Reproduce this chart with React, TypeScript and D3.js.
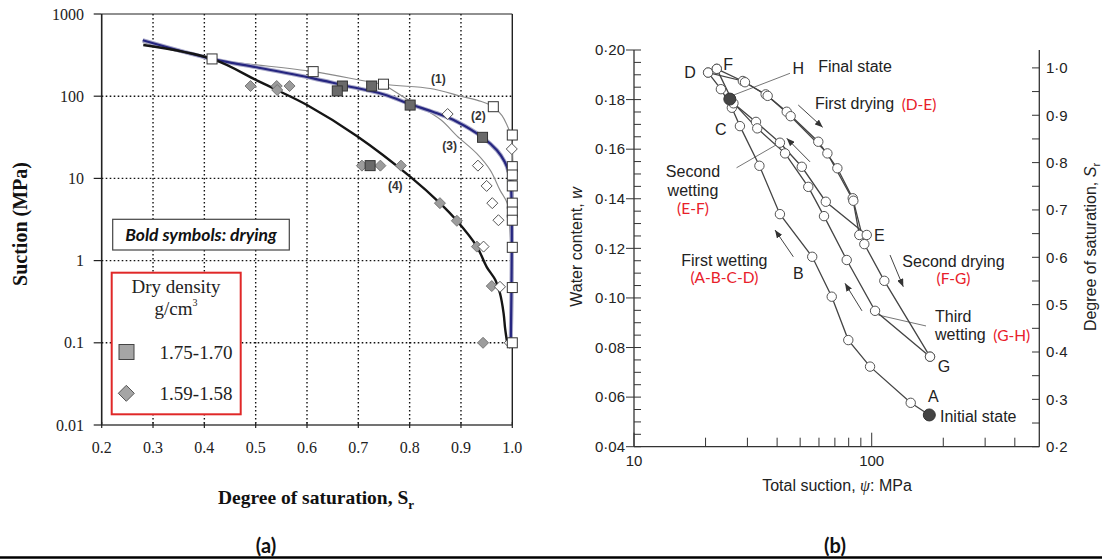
import React from 'react';
import * as d3 from 'd3';

type P = [number, number];

// ---------------- Panel (a) data ----------------
const satTicks = [0.2, 0.3, 0.4, 0.5, 0.6, 0.7, 0.8, 0.9, 1.0];
const satTickLabels = ['0.2', '0.3', '0.4', '0.5', '0.6', '0.7', '0.8', '0.9', '1.0'];
const suctionTicks = [0.01, 0.1, 1, 10, 100, 1000];
const suctionTickLabels = ['0.01', '0.1', '1', '10', '100', '1000'];

// curves: [Sr, suction MPa]
const curve1: P[] = [[0.28, 450], [0.415, 284], [0.612, 199], [0.749, 140], [0.84, 124], [0.9, 100], [0.94, 86], [0.963, 74.5], [0.98, 58], [0.99, 44], [0.997, 34], [1.0, 25], [1.0, 0.1]];
const curve2: P[] = [[0.28, 480], [0.415, 284], [0.502, 225], [0.612, 165], [0.669, 137], [0.75, 105], [0.801, 80], [0.85, 63], [0.892, 49], [0.942, 31.6], [0.97, 22], [0.985, 16], [0.993, 12], [0.997, 9], [0.997, 0.1]];
const curve3: P[] = [[0.749, 140], [0.8, 88], [0.86, 52], [0.892, 33], [0.931, 20], [0.957, 12.6], [0.976, 7.2], [0.99, 5], [0.994, 3], [0.997, 1.5]];
const curve4: P[] = [[0.281, 420], [0.415, 284], [0.502, 156], [0.541, 119], [0.6, 78], [0.697, 32.8], [0.801, 10.5], [0.859, 5.0], [0.892, 3.05], [0.931, 1.48], [0.95, 0.84], [0.967, 0.58], [0.976, 0.4], [0.983, 0.23], [0.986, 0.15], [0.99, 0.1]];

const openSquares: P[] = [[0.415, 284], [0.612, 199], [0.749, 140], [0.963, 74.5], [1.0, 33.7], [1.0, 13.9], [1.0, 11], [1.0, 8.1], [1.0, 5.0], [1.0, 3.9], [1.0, 3.1], [1.0, 1.45], [1.0, 0.47], [1.0, 0.1]];
const openDiamonds: P[] = [[0.874, 60.7], [0.999, 22.8], [0.933, 14.3], [0.95, 8.1], [0.961, 5.0], [0.973, 3.1], [0.944, 1.48], [0.976, 0.48], [0.995, 0.1]];
const filledSquares: P[] = [[0.669, 133], [0.659, 116], [0.726, 133], [0.801, 78], [0.942, 31.6], [0.723, 14.3]];
const filledDiamonds: P[] = [[0.49, 133], [0.541, 133], [0.542, 119], [0.566, 133], [0.707, 14.3], [0.743, 14.3], [0.783, 14.3], [0.859, 5.0], [0.892, 3.05], [0.931, 1.48], [0.96, 0.49], [0.943, 0.1]];

const curveLabels = ['(1)', '(2)', '(3)', '(4)'];
const curveLabelPos: P[] = [[0.856, 165], [0.934, 57.4], [0.878, 24.8], [0.772, 8.15]];

const legendLabels = ['1.75-1.70', '1.59-1.58'];

// ---------------- Panel (b) data ----------------
const wTicks = [0.04, 0.06, 0.08, 0.10, 0.12, 0.14, 0.16, 0.18, 0.20];
const srTicks = [0.2, 0.3, 0.4, 0.5, 0.6, 0.7, 0.8, 0.9, 1.0];
const suctionMinorTicks = [20, 30, 40, 50, 60, 70, 80, 90, 200, 300, 400];
const suctionLabelTicks = [10, 100];

// paths: [suction MPa, water content]
const firstWetting: P[] = [[174.7, 0.0528], [145.9, 0.0577], [98.4, 0.0723], [79.7, 0.0830], [67.9, 0.1005], [56.2, 0.1166], [41.1, 0.1338], [33.7, 0.1533], [27.9, 0.1693], [25.8, 0.1767], [23.2, 0.1842], [20.5, 0.1909]];
const firstDrying: P[] = [[20.5, 0.1909], [28.7, 0.1875], [35.8, 0.1821], [43.9, 0.1751], [59.6, 0.1630], [71.7, 0.1523], [83.2, 0.1402], [88.7, 0.1254]];
const secondWetting: P[] = [[95.3, 0.1254], [64.1, 0.1388], [50.8, 0.1529], [41.1, 0.1626], [32.6, 0.1710], [26.2, 0.1785], [22.3, 0.1924]];
const secondDrying: P[] = [[22.3, 0.1924], [29.3, 0.1870], [36.5, 0.1815], [45.6, 0.1733], [65.1, 0.1583], [83.7, 0.1392], [93.1, 0.1217], [113, 0.1069], [175.9, 0.0763]];
const thirdWetting: P[] = [[175.9, 0.0763], [103.3, 0.0948], [78.5, 0.1153], [63, 0.1330], [54.1, 0.1448], [43.2, 0.1583], [33.0, 0.1684], [25.3, 0.1802]];
const initialState: P = [174.7, 0.0528];
const finalState: P = [25.3, 0.1802];

// annotations (text, position in data units)
const bLabels: { t: string; p: P; anchor: string; red?: boolean }[] = [
  { t: 'D', p: [17.2, 0.1911], anchor: 'middle' },
  { t: 'F', p: [24.9, 0.1943], anchor: 'middle' },
  { t: 'H', p: [49.1, 0.1926], anchor: 'middle' },
  { t: 'Final state', p: [85.1, 0.1932], anchor: 'middle' },
  { t: 'First drying', p: [57.7, 0.1785], anchor: 'start' },
  { t: '(D-E)', p: [133.7, 0.1778], anchor: 'start', red: true },
  { t: 'C', p: [23.2, 0.168], anchor: 'middle' },
  { t: 'Second', p: [17.7, 0.1509], anchor: 'middle' },
  { t: 'wetting', p: [17.7, 0.1435], anchor: 'middle' },
  { t: '(E-F)', p: [17.7, 0.1361], anchor: 'middle', red: true },
  { t: 'First wetting', p: [24.0, 0.115], anchor: 'middle' },
  { t: '(A-B-C-D)', p: [24.0, 0.1083], anchor: 'middle', red: true },
  { t: 'B', p: [49.1, 0.1099], anchor: 'middle' },
  { t: 'E', p: [107.7, 0.1254], anchor: 'middle' },
  { t: 'Second drying', p: [220.8, 0.1146], anchor: 'middle' },
  { t: '(F-G)', p: [220.8, 0.1079], anchor: 'middle', red: true },
  { t: 'Third', p: [184.6, 0.0924], anchor: 'start' },
  { t: 'wetting', p: [184.6, 0.0853], anchor: 'start' },
  { t: '(G-H)', p: [324.8, 0.0850], anchor: 'start', red: true },
  { t: 'G', p: [201.5, 0.0723], anchor: 'middle' },
  { t: 'A', p: [181.6, 0.0602], anchor: 'middle' },
  { t: 'Initial state', p: [193.8, 0.0521], anchor: 'start' },
];
const bLeaders: [P, P][] = [
  [[45.3, 0.1906], [26.2, 0.1818]],
  [[27.0, 0.1525], [41.1, 0.1626]],
  [[169.2, 0.0887], [106.6, 0.0931]],
];
const bArrows: [P, P][] = [
  [[49.1, 0.1778], [62.2, 0.1688]],
  [[55.0, 0.1549], [43.9, 0.1644]],
  [[46.8, 0.1166], [39.2, 0.1274]],
  [[91.0, 0.0948], [77.2, 0.1059]],
  [[119.4, 0.1173], [135.8, 0.1045]],
];

const serif = '"Liberation Serif", "Times New Roman", serif';
const sans = '"Liberation Sans", Arial, sans-serif';
const cal = 'Lato, "Open Sans", sans-serif';

export default function App() {
  // ----- panel (a) scales -----
  const ax = d3.scaleLinear().domain([0.2, 1.0]).range([101.7, 512.3]);
  const ay = d3.scaleLog().domain([0.01, 1000]).range([425, 14]);
  const aLine = d3.line<P>().x(d => ax(d[0])).y(d => ay(d[1])).curve(d3.curveCatmullRom.alpha(0.5));

  // ----- panel (b) scales -----
  const bx = d3.scaleLog().domain([10, 507]).range([634, 1039.3]);
  const by = d3.scaleLinear().domain([0.04, 0.2]).range([446.7, 50]);
  const bySr = d3.scaleLinear().domain([0.2, 1.0]).range([446.7, 67.9]);
  const bLine = d3.line<P>().x(d => bx(d[0])).y(d => by(d[1]));

  const sq = (p: P, i: number, fill: string, stroke: string, s = 10) => (
    <rect key={i} x={ax(p[0]) - s / 2} y={ay(p[1]) - s / 2} width={s} height={s} fill={fill} stroke={stroke} strokeWidth={1} />
  );
  const dm = (cx: number, cy: number, i: number, fill: string, stroke: string, r = 5.5) => (
    <path key={i} d={`M${cx},${cy - r}L${cx + r},${cy}L${cx},${cy + r}L${cx - r},${cy}Z`} fill={fill} stroke={stroke} strokeWidth={1} />
  );

  const minorW = d3.range(0.04, 0.2001, 0.005);
  const minorSr = d3.range(0.2, 1.0001, 0.05);
  const bPaths = [firstWetting, firstDrying, secondWetting, secondDrying, thirdWetting];
  const allPts = bPaths.flat();

  return (
    <div style={{ position: 'absolute', left: 0, top: 0 }}>
      <svg width={1102} height={560} viewBox="0 0 1102 560" style={{ display: 'block', background: '#fff' }}>
        <defs>
          <marker id="arr" viewBox="0 0 10 8" refX={10} refY={4} markerWidth={8} markerHeight={6.5} markerUnits="userSpaceOnUse" orient="auto">
            <path d="M0,0L10,4L0,8Z" fill="#333" />
          </marker>
        </defs>

        {/* ================= Panel (a) ================= */}
        <g>
          {satTicks.slice(1, -1).map((t, i) => (
            <line key={'gv' + i} x1={ax(t)} x2={ax(t)} y1={ay(1000)} y2={ay(0.01)} stroke="#111" strokeWidth={1.4} strokeDasharray="1.6,2.4" />
          ))}
          {suctionTicks.slice(1, -1).map((t, i) => (
            <line key={'gh' + i} x1={ax(0.2)} x2={ax(1.0)} y1={ay(t)} y2={ay(t)} stroke="#111" strokeWidth={1.4} strokeDasharray="1.6,2.4" />
          ))}
          <line x1={ax(0.2)} x2={ax(1.0)} y1={ay(1000)} y2={ay(1000)} stroke="#222" strokeWidth={1.2} />
          <line x1={ax(1.0)} x2={ax(1.0)} y1={ay(1000)} y2={ay(0.01)} stroke="#222" strokeWidth={1.4} />
          <line x1={ax(0.2)} x2={ax(0.2)} y1={ay(1000)} y2={ay(0.01)} stroke="#222" strokeWidth={1.6} />
          <line x1={ax(0.2)} x2={ax(1.0)} y1={ay(0.01)} y2={ay(0.01)} stroke="#444" strokeWidth={1.6} />
          {suctionTicks.map((t, i) => (
            <g key={'yt' + i}>
              <line x1={ax(0.2) - 8} x2={ax(0.2)} y1={ay(t)} y2={ay(t)} stroke="#222" strokeWidth={1.2} />
              <text x={84} y={ay(t)} dy="0.35em" textAnchor="end" fontFamily={serif} fontSize={16} fill="#222">{suctionTickLabels[i]}</text>
            </g>
          ))}
          {satTicks.map((t, i) => (
            <g key={'xt' + i}>
              <line x1={ax(t)} x2={ax(t)} y1={ay(0.01) - 3} y2={ay(0.01) + 3} stroke="#222" strokeWidth={1.2} />
              <text x={ax(t)} y={447} dy="0.35em" textAnchor="middle" fontFamily={serif} fontSize={16} fill="#222">{satTickLabels[i]}</text>
            </g>
          ))}
          <text transform="translate(20,224) rotate(-90)" textAnchor="middle" dy="0.35em" fontFamily={serif} fontWeight="bold" fontSize={20} fill="#111">Suction (MPa)</text>
          <text x={316} y={497} dy="0.35em" textAnchor="middle" fontFamily={serif} fontWeight="bold" fontSize={19.5} fill="#111">
            Degree of saturation, S<tspan fontSize={13} dy="5">r</tspan>
          </text>

          <path d={aLine(curve1) || ''} fill="none" stroke="#8a8a8a" strokeWidth={1.1} />
          <path d={aLine(curve3) || ''} fill="none" stroke="#8a8a8a" strokeWidth={1.1} />
          <path d={aLine(curve2) || ''} fill="none" stroke="#a8a8c8" strokeWidth={4.2} />
          <path d={aLine(curve2) || ''} fill="none" stroke="#262680" strokeWidth={2.2} />
          <path d={aLine(curve4) || ''} fill="none" stroke="#151515" strokeWidth={2.4} />

          {curveLabels.map((t, i) => (
            <text key={'cl' + i} x={ax(curveLabelPos[i][0])} y={ay(curveLabelPos[i][1])} dy="0.35em" textAnchor="middle" fontFamily={sans} fontWeight="bold" fontSize={12} fill="#333">{t}</text>
          ))}

          {filledDiamonds.map((p, i) => dm(ax(p[0]), ay(p[1]), i, '#9c9c9c', '#777'))}
          {openDiamonds.map((p, i) => dm(ax(p[0]), ay(p[1]), i, '#fff', '#555'))}
          {filledSquares.map((p, i) => sq(p, i, '#6a6a6a', '#333'))}
          {openSquares.map((p, i) => sq(p, i, '#fff', '#333'))}

          <rect x={112.7} y={219.3} width={176.6} height={30.7} fill="#fff" stroke="#444" strokeWidth={1.2} />
          <text x={201} y={235} dy="0.35em" textAnchor="middle" fontFamily={cal} fontWeight="bold" fontStyle="italic" fontSize={17.5} fill="#111">Bold symbols: drying</text>

          <rect x={111.7} y={272.7} width={129} height={141.6} fill="#fff" stroke="#e02828" strokeWidth={2} />
          <text x={176} y={286} dy="0.35em" textAnchor="middle" fontFamily={serif} fontSize={19} fill="#222">Dry density</text>
          <text x={176} y={308} dy="0.35em" textAnchor="middle" fontFamily={serif} fontSize={19} fill="#222">g/cm<tspan fontSize={10} dy="-9">3</tspan></text>
          <rect x={119} y={344.5} width={15} height={15} fill="#a5a5a5" stroke="#444" strokeWidth={1} />
          {dm(126.3, 393.3, 99, '#a5a5a5', '#555', 8)}
          {legendLabels.map((t, i) => (
            <text key={'lg' + i} x={196} y={352 + i * 41.3} dy="0.35em" textAnchor="middle" fontFamily={serif} fontSize={19} fill="#222">{t}</text>
          ))}
        </g>

        {/* ================= Panel (b) ================= */}
        <g>
          <line x1={634} x2={634} y1={by(0.2)} y2={by(0.04)} stroke="#333" strokeWidth={1.3} />
          <line x1={634} x2={1039.3} y1={by(0.04)} y2={by(0.04)} stroke="#333" strokeWidth={1.3} />
          <line x1={1039.3} x2={1039.3} y1={by(0.2)} y2={by(0.04)} stroke="#333" strokeWidth={1.3} />
          {minorW.map((t, i) => (
            <line key={'mw' + i} x1={634} x2={641} y1={by(t)} y2={by(t)} stroke="#333" strokeWidth={1} />
          ))}
          {wTicks.map((t, i) => (
            <g key={'wt' + i}>
              <line x1={626} x2={634} y1={by(t)} y2={by(t)} stroke="#333" strokeWidth={1} />
              <text x={625} y={by(t)} dy="0.35em" textAnchor="end" fontFamily={sans} fontSize={15} fill="#222">{d3.format('.2f')(t).replace('.', '·')}</text>
            </g>
          ))}
          {minorSr.map((t, i) => (
            <line key={'ms' + i} x1={1032} x2={1039.3} y1={bySr(t)} y2={bySr(t)} stroke="#333" strokeWidth={1} />
          ))}
          {srTicks.map((t, i) => (
            <text key={'st' + i} x={1046} y={bySr(t)} dy="0.35em" textAnchor="start" fontFamily={sans} fontSize={15} fill="#222">{d3.format('.1f')(t).replace('.', '·')}</text>
          ))}
          {suctionMinorTicks.map((t, i) => (
            <line key={'sx' + i} x1={bx(t)} x2={bx(t)} y1={by(0.04) - 9} y2={by(0.04)} stroke="#333" strokeWidth={1} />
          ))}
          {suctionLabelTicks.map((t, i) => (
            <g key={'sl' + i}>
              <line x1={bx(t)} x2={bx(t)} y1={by(0.04) - 14} y2={by(0.04)} stroke="#333" strokeWidth={1} />
              <text x={bx(t)} y={461} dy="0.35em" textAnchor="middle" fontFamily={sans} fontSize={15} fill="#222">{String(t)}</text>
            </g>
          ))}
          <text transform="translate(576,247) rotate(-90)" textAnchor="middle" dy="0.35em" fontFamily={sans} fontSize={16} fill="#222">
            Water content, <tspan fontStyle="italic">w</tspan>
          </text>
          <text transform="translate(1090,247) rotate(-90)" textAnchor="middle" dy="0.35em" fontFamily={sans} fontSize={16} fill="#222">
            Degree of saturation, <tspan fontStyle="italic">S</tspan><tspan fontSize={11} dy="4">r</tspan>
          </text>
          <text x={837} y={485} dy="0.35em" textAnchor="middle" fontFamily={sans} fontSize={16} fill="#222">
            Total suction, <tspan fontStyle="italic" fontFamily={serif}>ψ</tspan>: MPa
          </text>

          {bLeaders.map((l, i) => (
            <line key={'ld' + i} x1={bx(l[0][0])} y1={by(l[0][1])} x2={bx(l[1][0])} y2={by(l[1][1])} stroke="#666" strokeWidth={0.9} />
          ))}
          {bArrows.map((l, i) => (
            <line key={'ar' + i} x1={bx(l[0][0])} y1={by(l[0][1])} x2={bx(l[1][0])} y2={by(l[1][1])} stroke="#444" strokeWidth={1} markerEnd="url(#arr)" />
          ))}

          {bPaths.map((p, i) => (
            <path key={'bp' + i} d={bLine(p) || ''} fill="none" stroke="#444" strokeWidth={1.3} />
          ))}
          {allPts.map((p, i) => (
            <circle key={'bc' + i} cx={bx(p[0])} cy={by(p[1])} r={4.7} fill="#fff" stroke="#555" strokeWidth={1} />
          ))}
          <circle cx={bx(initialState[0])} cy={by(initialState[1])} r={6} fill="#444" stroke="#333" />
          <circle cx={bx(finalState[0])} cy={by(finalState[1])} r={6} fill="#444" stroke="#333" />

          {bLabels.map((l, i) => (
            <text key={'bl' + i} x={bx(l.p[0])} y={by(l.p[1])} dy="0.35em" textAnchor={l.anchor as any}
              fontFamily={l.red ? cal : sans} fontSize={l.red ? 15.5 : 16} fill={l.red ? '#e8202a' : '#222'}>{l.t}</text>
          ))}
        </g>

        <text x={266} y={546} dy="0.35em" textAnchor="middle" fontFamily={cal} fontWeight="bold" fontSize={20} fill="#111">(a)</text>
        <text x={835} y={546} dy="0.35em" textAnchor="middle" fontFamily={cal} fontWeight="bold" fontSize={20} fill="#111">(b)</text>
        <line x1={0} x2={1102} y1={557.5} y2={557.5} stroke="#000" strokeWidth={2.5} />
      </svg>
    </div>
  );
}
